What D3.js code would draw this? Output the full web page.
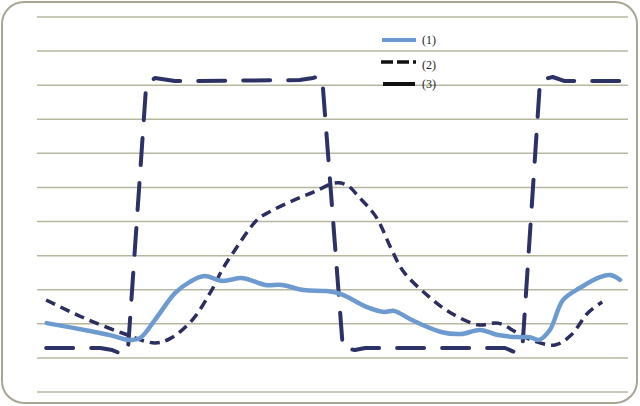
<!DOCTYPE html>
<html>
<head>
<meta charset="utf-8">
<script src="https://cdn.jsdelivr.net/npm/d3@7/dist/d3.min.js"></script>
<style>
html,body{margin:0;padding:0;background:#fff;}
svg{display:block;}
</style>
</head>
<body>
<svg id="chart" width="640" height="406"></svg>
<script>
// ---- data ----
const gridValues = [0,1,2,3,4,5,6,7,8,9,10,11];
const legendLabels = ["(1)", "(2)", "(3)"];

const s1x = [0.3,7.8,11.3,14.4,16.5,19.1,22.6,25.2,27.7,30.8,34.4,38.3,41.2,45.0,49.0,51.5,56.0,59.0,60.7,63.8,68.9,72.3,75.7,78.8,82.3,84.3,85.9,87.8,90.1,93.0,96.5,98.3,100];
const s1y = [2.02,1.79,1.67,1.53,1.58,2.11,2.90,3.23,3.40,3.26,3.34,3.14,3.14,2.99,2.96,2.87,2.49,2.35,2.38,2.11,1.76,1.70,1.82,1.67,1.61,1.61,1.53,1.82,2.70,3.05,3.37,3.43,3.29];

const s2x = [0.2,6.4,13.4,19.1,21.9,25.6,29.0,30.8,32.7,36.9,39.0,43.3,46.8,50.4,52.5,54.6,57.6,60.3,62.4,66.8,70.3,75.3,78.8,81.9,84.5,88.7,91.5,94.4,96.9];
const s2y = [2.70,2.20,1.73,1.44,1.58,2.11,2.99,3.58,4.08,5.05,5.28,5.63,5.87,6.13,6.07,5.72,5.13,4.17,3.52,2.79,2.35,1.97,2.02,1.76,1.53,1.38,1.67,2.32,2.64];

const s3x = [0.2,9.6,11.7,13.0,14.4,17.6,19.1,22.6,44.3,46.6,47.8,48.3,51.8,53.9,55.7,77.4,80.0,81.7,83.0,86.1,88.3,90.4,100];
const s3y = [1.29,1.29,1.23,1.14,1.17,9.01,9.21,9.12,9.15,9.21,9.27,9.01,1.29,1.23,1.29,1.29,1.29,1.17,1.23,9.15,9.24,9.12,9.12];

// ---- layout ----
const svg = d3.select("#chart");
const x = d3.scaleLinear().domain([0,100]).range([45,620]);
const y = d3.scaleLinear().domain([0,11]).range([392,17]);
const gridX0 = 37, gridX1 = 628;

// frame
svg.append("rect")
  .attr("x",2).attr("y",2).attr("width",635).attr("height",401)
  .attr("rx",22).attr("ry",22)
  .attr("fill","#fff").attr("stroke","#a8a594").attr("stroke-width",2);

// gridlines
svg.append("g").selectAll("line").data(gridValues).join("line")
  .attr("x1",gridX0).attr("x2",gridX1)
  .attr("y1",d=>y(d)).attr("y2",d=>y(d))
  .attr("stroke","#b7b79f").attr("stroke-width",1.5);

const zip = (xs,ys)=>xs.map((v,i)=>[v,ys[i]]);

const lineSmooth = d3.line().x(d=>x(d[0])).y(d=>y(d[1])).curve(d3.curveCatmullRom.alpha(0.5));
const lineLin = d3.line().x(d=>x(d[0])).y(d=>y(d[1])).curve(d3.curveLinear);

// series 3 (long dashes square wave)
svg.append("path").datum(zip(s3x,s3y))
  .attr("d",lineLin).attr("fill","none")
  .attr("stroke","#2d3266").attr("stroke-width",4)
  .attr("stroke-dasharray","27,18").attr("stroke-linecap","round").attr("stroke-linejoin","round");

// series 2 (short dashes)
svg.append("path").datum(zip(s2x,s2y))
  .attr("d",lineSmooth).attr("fill","none")
  .attr("stroke","#2b2e5e").attr("stroke-width",3.5)
  .attr("stroke-dasharray","10,6");

// series 1 (solid light blue)
svg.append("path").datum(zip(s1x,s1y))
  .attr("d",lineSmooth).attr("fill","none")
  .attr("stroke","#6e9bcf").attr("stroke-width",4.5)
  .attr("stroke-linejoin","round").attr("stroke-linecap","round");

// legend
const leg = svg.append("g");
const legY = [40,62,84];
leg.append("line").attr("x1",382).attr("x2",416).attr("y1",legY[0]).attr("y2",legY[0])
  .attr("stroke","#6e9bcf").attr("stroke-width",4);
leg.append("line").attr("x1",381).attr("x2",416).attr("y1",legY[1]).attr("y2",legY[1])
  .attr("stroke","#111").attr("stroke-width",3.5).attr("stroke-dasharray","12,4");
leg.append("line").attr("x1",383).attr("x2",415).attr("y1",legY[2]).attr("y2",legY[2])
  .attr("stroke","#111").attr("stroke-width",4);
leg.selectAll("text").data(legendLabels).join("text")
  .attr("x",422).attr("y",(d,i)=>legY[i]+ (i===0?1:(i===1?4:1)))
  .attr("dominant-baseline","middle")
  .attr("font-family","Liberation Serif, Times New Roman, serif")
  .attr("font-size",12).attr("fill","#222")
  .text(d=>d);
</script>
</body>
</html>
